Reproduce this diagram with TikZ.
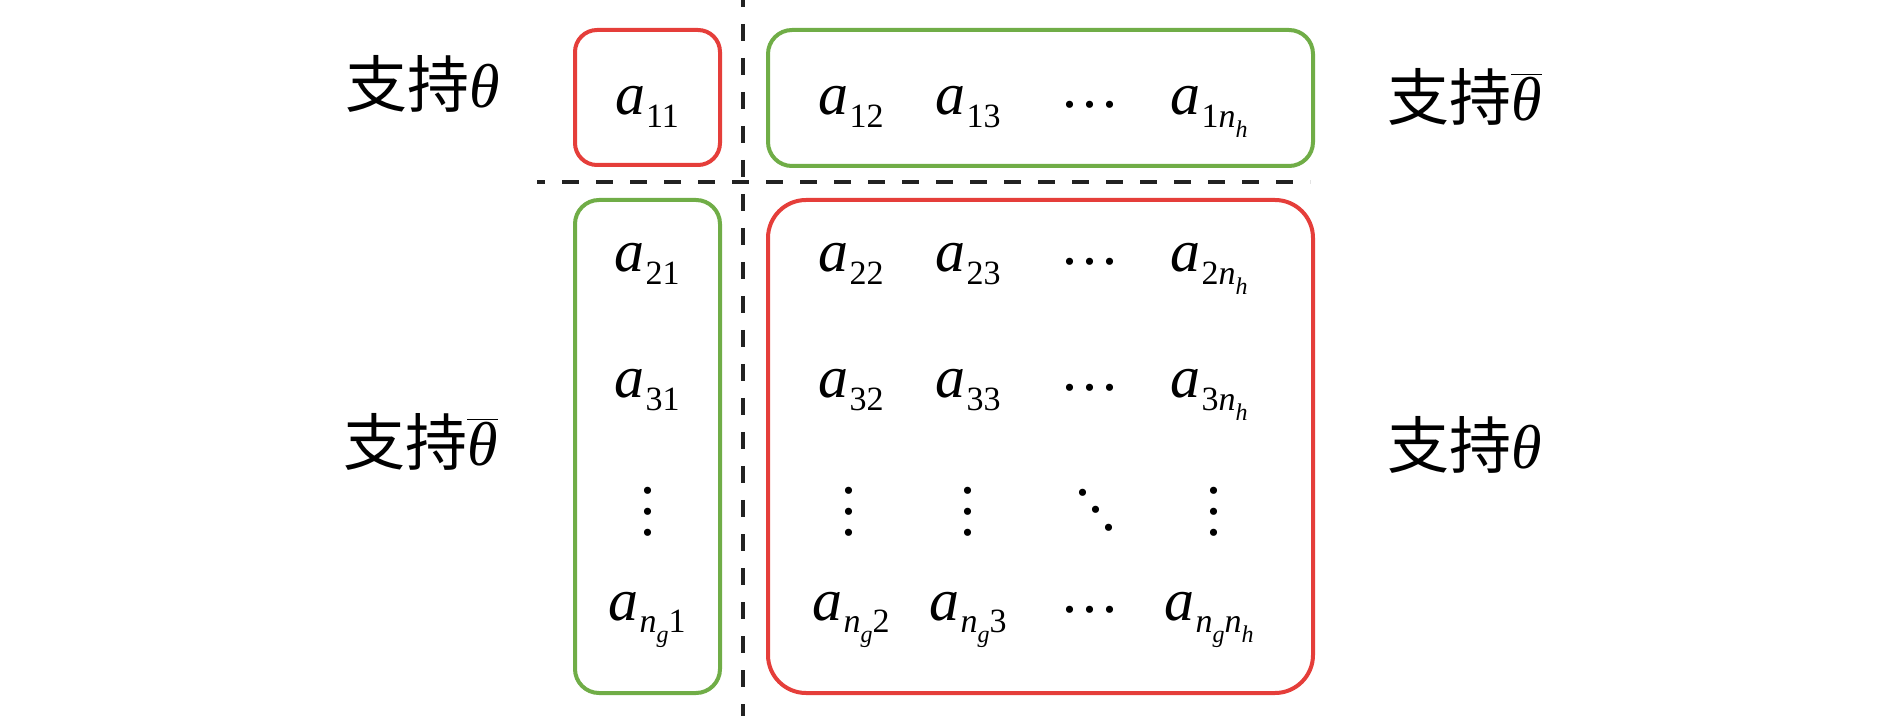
\documentclass[tikz,border=0pt]{standalone}
\usepackage{fontspec}
\setmainfont{Liberation Serif}
\newfontfamily\cjk{Noto Sans CJK SC}
\definecolor{myred}{HTML}{E53E3A}
\definecolor{mygreen}{HTML}{70AD47}
\definecolor{dashc}{HTML}{222222}
\newcommand\sbs[1]{\raisebox{-0.21em}{\fontsize{17pt}{17pt}\selectfont #1}}
\newcommand\ssb[1]{\raisebox{-0.3em}{\fontsize{12pt}{12pt}\selectfont\itshape #1}}
\newcommand\ent[1]{\textit{a}\kern0.5pt\sbs{#1}}
\newcommand\nn[1]{\textit{n}\ssb{#1}}
\newcommand\hdt{\hbox{.\kern2.5pt.\kern2.5pt.}}
\newcommand\vdt{\vbox{\baselineskip=10.5pt\lineskiplimit=-100pt\lineskip=0pt\hbox{.}\hbox{.}\hbox{.}}}
\newcommand\ddt{\hbox{\raisebox{17.5pt}{.}\kern-1pt\raisebox{8.75pt}{.}\kern-1pt.}}
\begin{document}
\begin{tikzpicture}[x=0.5pt,y=-0.5pt,
  ent/.style={anchor=base,inner sep=0pt,font=\fontsize{30pt}{30pt}\selectfont},
  dt/.style={inner sep=0pt,font=\fontsize{30pt}{30pt}\selectfont},
  lab/.style={anchor=base west,inner sep=0pt,font=\fontsize{31pt}{31pt}\selectfont},
  box/.style={line width=2pt},
  sep/.style={dashc,line width=2pt,dash pattern=on 8.5pt off 8.5pt}]
\useasboundingbox (0,0) rectangle (1890,716);
% separators
\coordinate (vt) at (743,0); \coordinate (vb) at (743,716);
\coordinate (hl) at (537,182); \coordinate (hr) at (1310,182);
\draw[sep,dash phase=5pt] (vt) -- (vb);
\draw[sep,dash phase=4.5pt] (hl) -- (hr);
% boxes
\draw[box,myred,rounded corners=11pt] (575,30) rectangle (720,165);
\draw[box,mygreen,rounded corners=12pt] (768,30) rectangle (1313,166);
\draw[box,mygreen,rounded corners=12pt] (575,200) rectangle (720,693);
\draw[box,myred,rounded corners=19pt] (768,200) rectangle (1313,693);
% row 1
\node[ent] (a11) at (647,115) {\ent{11}};
\node[ent] (a12) at (851,115) {\ent{12}};
\node[ent] (a13) at (968,115) {\ent{13}};
\node[dt]  (c1)  at (1090,105) {\hdt};
\node[ent] (a1n) at (1209,115) {\ent{1\nn{h}}};
% row 2
\node[ent] (a21) at (647,272) {\ent{21}};
\node[ent] (a22) at (851,272) {\ent{22}};
\node[ent] (a23) at (968,272) {\ent{23}};
\node[dt]  (c2)  at (1090,262) {\hdt};
\node[ent] (a2n) at (1209,272) {\ent{2\nn{h}}};
% row 3
\node[ent] (a31) at (647,398) {\ent{31}};
\node[ent] (a32) at (851,398) {\ent{32}};
\node[ent] (a33) at (968,398) {\ent{33}};
\node[dt]  (c3)  at (1090,388) {\hdt};
\node[ent] (a3n) at (1209,398) {\ent{3\nn{h}}};
% dots row
\node[dt] (v1) at (648,512) {\vdt};
\node[dt] (v2) at (849,512) {\vdt};
\node[dt] (v3) at (968,512) {\vdt};
\node[dt] (dd) at (1096,510) {\ddt};
\node[dt] (v5) at (1214,512) {\vdt};
% last row
\node[ent] (an1) at (647,620) {\ent{\nn{g}1}};
\node[ent] (an2) at (851,620) {\ent{\nn{g}2}};
\node[ent] (an3) at (968,620) {\ent{\nn{g}3}};
\node[dt]  (cn)  at (1090,610) {\hdt};
\node[ent] (ann) at (1209,620) {\ent{\nn{g}\nn{h}}};
% labels
\node[lab] (l1) at (345,108) {{\cjk 支持}\textit{θ}};
\node[lab] (l2) at (1387,121) {{\cjk 支持}$\overline{\hbox{\textit{θ}}}$};
\node[lab] (l3) at (343,466) {{\cjk 支持}$\overline{\hbox{\textit{θ}}}$};
\node[lab] (l4) at (1387,468) {{\cjk 支持}\textit{θ}};
\end{tikzpicture}
\end{document}
